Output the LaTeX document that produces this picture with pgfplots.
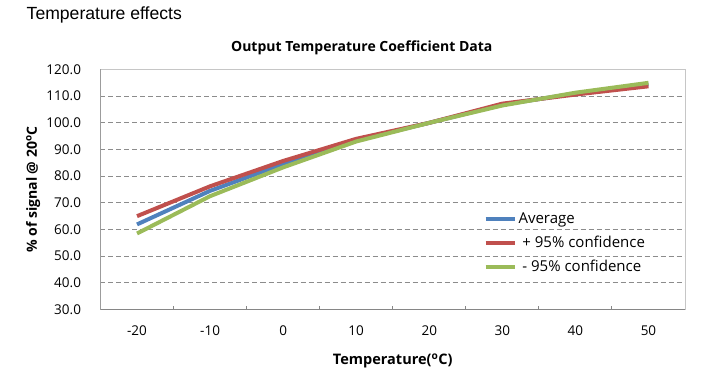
\documentclass[border=0pt]{standalone}
\usepackage{pgfplots}
\pgfplotsset{compat=1.18}
\usepackage{fontspec}
\setmainfont{Open Sans}
\newfontfamily\headfont{Liberation Sans}
\definecolor{cblue}{HTML}{4F81BD}
\definecolor{cred}{HTML}{C0504D}
\definecolor{cgreen}{HTML}{9BBB59}
\definecolor{axgray}{HTML}{868686}
\definecolor{gridgray}{HTML}{8C8C8C}
\begin{document}
\begin{tikzpicture}
\useasboundingbox (-100.5pt,-59.5pt) rectangle (604.5pt,309.5pt);
\node[anchor=west, font=\headfont\fontsize{17.6}{20}\selectfont, inner sep=0pt] at (-74pt,294.5pt) {Temperature effects};
\begin{axis}[
  at={(0pt,0pt)}, anchor=south west,
  scale only axis, width=584.5pt, height=240pt,
  xmin=-25, xmax=55, ymin=30, ymax=120,
  xtick={-20,-10,...,50},
  minor xtick={-15,-5,...,45},
  major x tick style={draw=none},
  minor tick length=3pt,
  tick align=inside,
  xtick pos=bottom,
  ytick={30,40,...,120},
  ytick style={draw=none},
  ymajorgrids,
  y grid style={gridgray, dash pattern=on 5pt off 3pt, line width=0.8pt},
  axis line style={gray!45, line width=0.8pt},
  minor x tick style={axgray, line width=1pt},
  /pgf/number format/assume math mode=true,
  yticklabel={\pgfmathprintnumber[fixed, fixed zerofill, precision=1]{\tick}},
  tick label style={font=\fontsize{13.5}{15}\selectfont, text=black},
  yticklabel style={xshift=-16pt},
  xticklabel style={yshift=-13pt},
  title={\textbf{Output Temperature Coefficient Data}},
  title style={font=\fontsize{14}{16}\selectfont, at={(axis description cs:0.447,1.065)}, anchor=center},
  xlabel={\textbf{Temperature(\textsuperscript{o}C)}},
  xlabel style={font=\fontsize{14.5}{16}\selectfont, at={(axis description cs:0.5,-0.215)}, anchor=center},
  ylabel={\textbf{\% of signal @ 20\textsuperscript{o}C}},
  ylabel style={font=\fontsize{14}{16}\selectfont, at={(axis description cs:-0.115,0.5)}, anchor=center},
  legend style={draw=none, fill=none, at={(axis description cs:0.655,0.412)}, anchor=north west,
    font=\fontsize{15}{17}\selectfont, row sep=7pt, inner sep=0pt},
  legend cell align=left,
  legend image code/.code={\draw[#1, line width=4pt] (0pt,0pt) -- (29pt,0pt);},
]
\addplot[cblue, line width=4pt, line join=round, mark=none] coordinates {(-20,61.9) (-10,74.5) (0,84.5) (10,93.5) (20,100) (30,106.8) (40,111.0) (50,114.4)};
\addlegendentry{Average}
\addplot[cred, line width=4pt, line join=round, mark=none] coordinates {(-20,65.0) (-10,76.2) (0,85.7) (10,94.0) (20,100) (30,107.2) (40,110.6) (50,113.7)};
\addlegendentry{\ + 95\% confidence}
\addplot[cgreen, line width=4pt, line join=round, mark=none] coordinates {(-20,58.5) (-10,72.5) (0,83.3) (10,93.0) (20,100) (30,106.5) (40,111.3) (50,115.0)};
\addlegendentry{\ - 95\% confidence}
\draw[axgray, line width=1.3pt] (rel axis cs:0,1) -- (rel axis cs:0,0) -- (rel axis cs:1,0);
\end{axis}
\end{tikzpicture}
\end{document}
